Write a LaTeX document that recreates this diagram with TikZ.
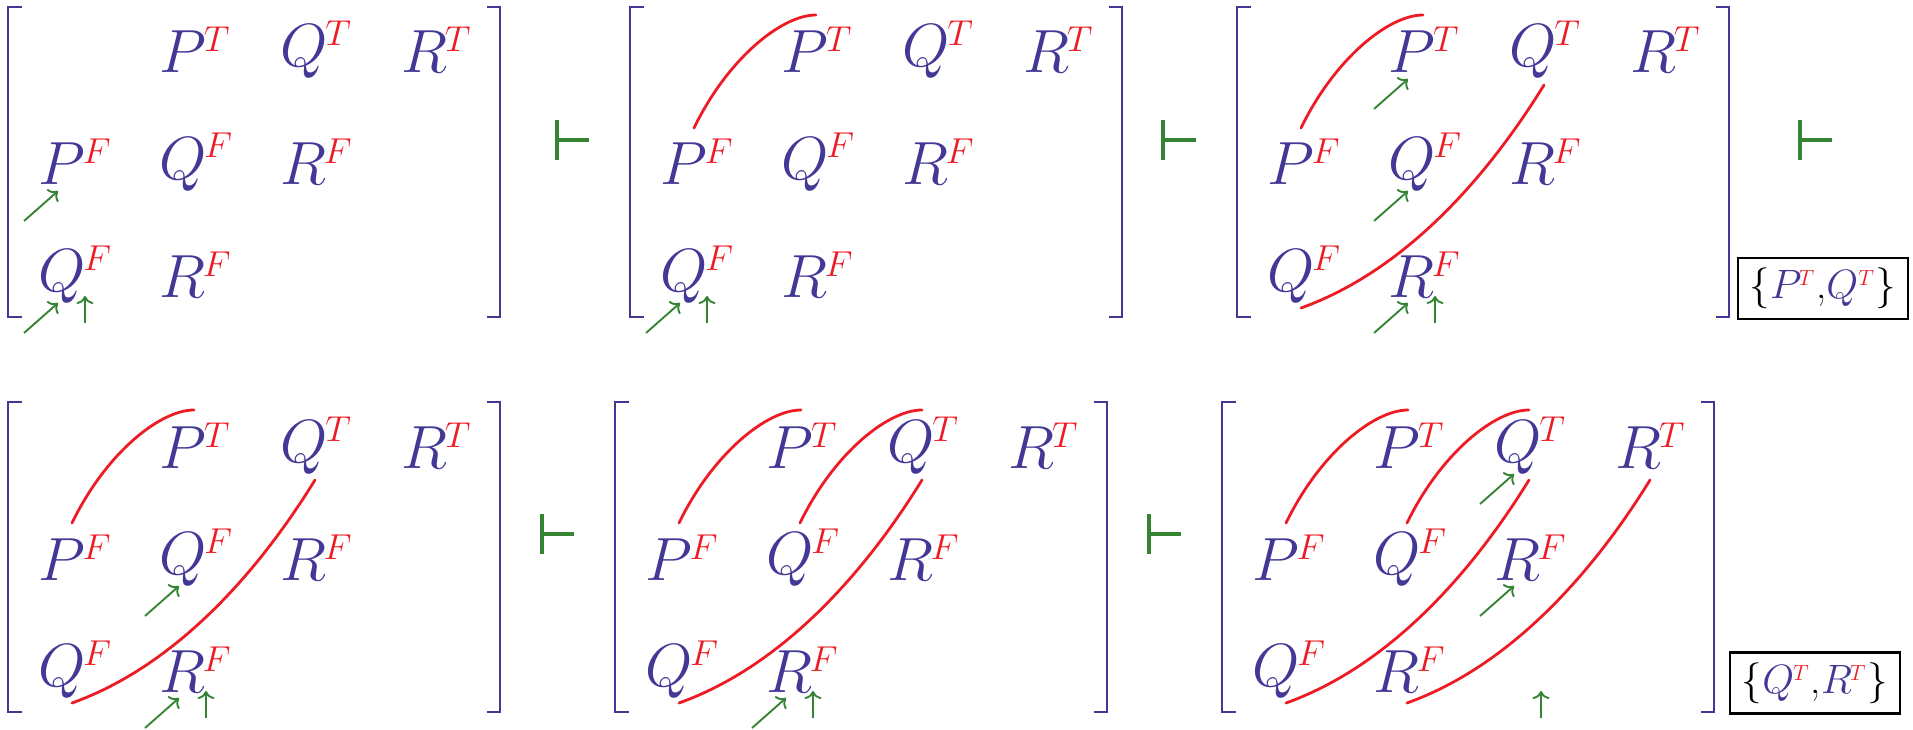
\RequirePackage{fix-cm}
\documentclass[tikz,border=0pt]{standalone}
\usetikzlibrary{calc,arrows.meta}
\definecolor{bl}{RGB}{66,56,150}
\definecolor{rd}{RGB}{237,28,36}
\definecolor{gr}{RGB}{52,132,52}

\newcommand\ment[2]{{\color{bl}$#1$}\kern-2pt\raisebox{21pt}{\fontsize{36}{36}\selectfont\color{rd}$#2$}}
\newcommand\bsup[1]{\raisebox{13pt}{\fontsize{22}{22}\selectfont\color{rd}$#1$}}

\tikzset{
  entry/.style={anchor=base west, inner sep=0pt, outer sep=0pt,
    font=\fontsize{61}{61}\selectfont, xshift=-2pt},
  qentry/.style={entry, yshift=6pt},
  brack/.style={draw=bl, line width=2.4pt},
  redline/.style={draw=rd, line width=2.8pt, line cap=round},
  garrow/.style={draw=gr, line width=1.9pt, -{To[length=8pt,width=17pt]}},
  tstile/.style={draw=gr, line width=3.3pt},
  setbox/.style={draw=black, line width=2.7pt, minimum width=170pt,
    minimum height=61pt, inner sep=0pt, font=\fontsize{41}{41}\selectfont},
}

% #1 name, #2 dx, #3 dy
\newcommand\mymatrix[3]{%
  \coordinate (#1c12) at (#2+161,#3+73);
  \coordinate (#1c13) at (#2+282,#3+73);
  \coordinate (#1c14) at (#2+403,#3+73);
  \coordinate (#1c21) at (#2+40,#3+185);
  \coordinate (#1c22) at (#2+161,#3+185);
  \coordinate (#1c23) at (#2+282,#3+185);
  \coordinate (#1c31) at (#2+40,#3+297);
  \coordinate (#1c32) at (#2+161,#3+297);
  \coordinate (#1c33) at (#2+282,#3+297);
  \draw[brack] (#2+22,#3+7) -- (#2+8,#3+7) -- (#2+8,#3+317) -- (#2+22,#3+317);
  \draw[brack] (#2+487,#3+7) -- (#2+500,#3+7) -- (#2+500,#3+317) -- (#2+487,#3+317);
  \node[entry]  (#1PT)  at (#1c12) {\ment{P}{T}};
  \node[qentry] (#1QT)  at (#1c13) {\ment{Q}{T}};
  \node[entry]  (#1RT)  at (#1c14) {\ment{R}{T}};
  \node[entry]  (#1PF)  at (#1c21) {\ment{P}{F}};
  \node[qentry] (#1QF)  at (#1c22) {\ment{Q}{F}};
  \node[entry]  (#1RF)  at (#1c23) {\ment{R}{F}};
  \node[qentry] (#1QFb) at (#1c31) {\ment{Q}{F}};
  \node[entry]  (#1RFb) at (#1c32) {\ment{R}{F}};
}
\newcommand\diagarrow[1]{\draw[garrow] ($(#1)+(-16,36)$) -- ($(#1)+(18,6)$);}
\newcommand\uparr[1]{\draw[garrow] ($(#1)+(45,26)$) -- ($(#1)+(45,-1)$);}
\newcommand\curvetop[2]{\draw[redline] ($(#1)+(32,-57)$) .. controls +(34,-70) and +(-34,0) .. ($(#2)+(33,-58)$);}
\newcommand\curvelow[2]{\draw[redline] ($(#1)+(32,11)$) .. controls +(103,-37) and +(-58,94) .. ($(#2)+(33,12)$);}

\begin{document}
\begin{tikzpicture}[x=1pt,y=-1pt]
\useasboundingbox (0,0) rectangle (1913,730);

% top row
\mymatrix{a}{0}{0}
\diagarrow{ac21}
\diagarrow{ac31}
\uparr{ac31}

\mymatrix{b}{622}{0}
\curvetop{bc21}{bc12}
\diagarrow{bc31}
\uparr{bc31}

\mymatrix{c}{1229}{0}
\curvetop{cc21}{cc12}
\curvelow{cc31}{cc13}
\diagarrow{cc12}
\diagarrow{cc22}
\diagarrow{cc32}
\uparr{cc32}

% bottom row
\mymatrix{d}{0}{395}
\curvetop{dc21}{dc12}
\curvelow{dc31}{dc13}
\diagarrow{dc22}
\diagarrow{dc32}
\uparr{dc32}

\mymatrix{e}{607}{395}
\curvetop{ec21}{ec12}
\curvetop{ec22}{ec13}
\curvelow{ec31}{ec13}
\diagarrow{ec32}
\uparr{ec32}

\mymatrix{f}{1214}{395}
\curvetop{fc21}{fc12}
\curvetop{fc22}{fc13}
\curvelow{fc31}{fc13}
\curvelow{fc32}{fc14}
\diagarrow{fc13}
\diagarrow{fc23}
\uparr{fc33}

% turnstiles
\draw[tstile] (557,120) -- (557,160) (557,140) -- (589,140);
\draw[tstile] (1163,120) -- (1163,160) (1163,140) -- (1196,140);
\draw[tstile] (1800,120) -- (1800,160) (1800,140) -- (1832,140);
\draw[tstile] (542,514) -- (542,554) (542,534) -- (574,534);
\draw[tstile] (1149,514) -- (1149,554) (1149,534) -- (1181,534);

% result boxes
\node[setbox] (box1) at (1823,288.5)
  {$\{${\color{bl}$P$}\kern-3pt\bsup{T}\kern2pt,{\color{bl}$Q$}\kern0pt\bsup{T}\kern2pt$\}$};
\node[setbox] (box2) at (1815,683)
  {$\{${\color{bl}$Q$}\kern-1pt\bsup{T}\kern2pt,{\color{bl}$R$}\kern-2pt\bsup{T}\kern2pt$\}$};
\end{tikzpicture}
\end{document}
